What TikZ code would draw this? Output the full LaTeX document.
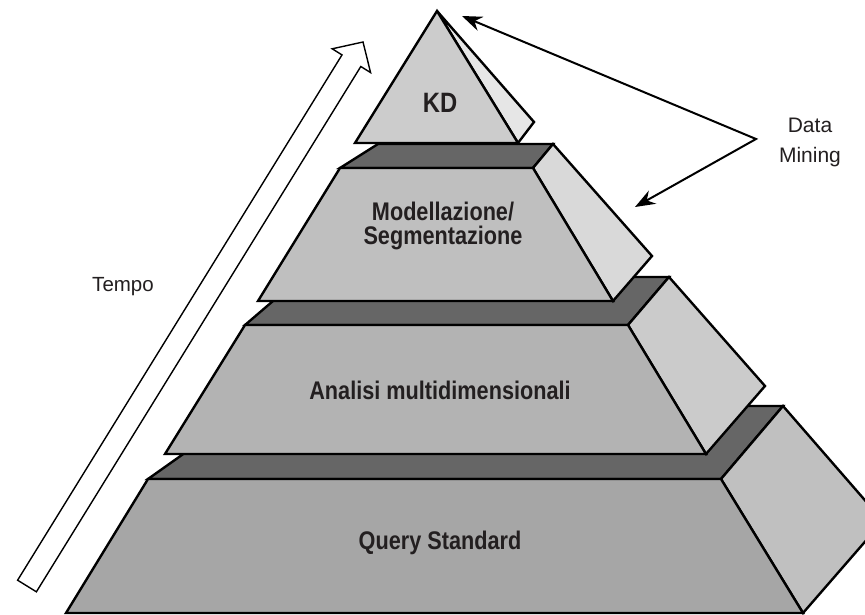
\documentclass[tikz,border=0pt]{standalone}
\usepackage{fontspec}
\setmainfont{Liberation Sans}
\newfontfamily\lblfont[FakeStretch=0.85]{Liberation Sans}
\usetikzlibrary{arrows.meta}
\definecolor{stripc}{HTML}{666666}
\definecolor{kdfront}{HTML}{CCCCCC}
\definecolor{kdside}{HTML}{E6E6E6}
\definecolor{tbfront}{HTML}{BFBFBF}
\definecolor{tbside}{HTML}{D9D9D9}
\definecolor{tcfront}{HTML}{B3B3B3}
\definecolor{tcside}{HTML}{CBCBCB}
\definecolor{tdfront}{HTML}{A6A6A6}
\definecolor{tdside}{HTML}{C0C0C0}
\definecolor{textc}{HTML}{231F20}
\begin{document}
\begin{tikzpicture}[x=1pt,y=-1pt,
  face/.style={draw=black,line width=2.4pt,line join=miter},
  lbl/.style={font=\lblfont\bfseries\fontsize{25.5pt}{24.5pt}\selectfont,text=textc,inner sep=0pt,align=center},
  plain/.style={font=\fontsize{21pt}{30pt}\selectfont,text=textc,inner sep=0pt,align=center},
  dmarrow/.style={draw=black,line width=2pt,line join=miter,{Stealth[length=20pt,width=15pt]}-{Stealth[length=20pt,width=15pt]}}
]
\useasboundingbox (0,0) rectangle (865,614);
\clip (0,0) rectangle (865,614);
\fill[white] (0,0) rectangle (865,614);

% tier 4 (bottom)
\draw[face,fill=stripc] (148,479) -- (721,479) -- (783,406) -- (251,406) -- cycle;
\draw[face,fill=tdside] (721,479) -- (783,406) -- (883,521) -- (803,613) -- cycle;
\draw[face,fill=tdfront] (148,479) -- (721,479) -- (803,613) -- (66,613) -- cycle;

% tier 3
\draw[face,fill=stripc] (245,325) -- (628,325) -- (669,277) -- (301,277) -- cycle;
\draw[face,fill=tcside] (628,325) -- (669,277) -- (765,386) -- (706,454) -- cycle;
\draw[face,fill=tcfront] (245,325) -- (628,325) -- (706,454) -- (165,454) -- cycle;

% tier 2
\draw[face,fill=stripc] (340,168) -- (533,168) -- (553,144) -- (378,144) -- cycle;
\draw[face,fill=tbside] (533,168) -- (553,144) -- (652,256) -- (613,301) -- cycle;
\draw[face,fill=tbfront] (340,168) -- (533,168) -- (613,301) -- (258,301) -- cycle;

% top (KD)
\draw[face,fill=kdside] (437,11) -- (534,122) -- (518,143) -- cycle;
\draw[face,fill=kdfront] (437,11) -- (518,143) -- (355,143) -- cycle;

% labels
\node[lbl,anchor=base,font=\lblfont\bfseries\fontsize{28pt}{30pt}\selectfont] (kd) at (440,112) {KD};
\node[lbl] (mod) at (443,226) {Modellazione/\\Segmentazione};
\node[lbl,anchor=base] (ana) at (440,399) {Analisi multidimensionali};
\node[lbl,anchor=base] (qs) at (440,549) {Query Standard};

% Tempo block arrow
\draw[fill=white,draw=black,line width=1.4pt,line join=miter]
  (17.6,580.2) -- (342.0,54.9) -- (332.2,48.8) -- (363,42) -- (370.6,72.6) -- (360.8,66.5) -- (36.4,591.8) -- cycle;
\node[plain,font=\fontsize{20.5pt}{24pt}\selectfont] (tempo) at (123,287) {Tempo};

% Data Mining
\node[plain] (dmlabel) at (810,142) {Data\\Mining};
\coordinate (dm) at (756,139);
\coordinate (tipA) at (462,16);
\coordinate (tipB) at (635,207);
\draw[dmarrow] (tipA) -- (dm) -- (tipB);
\end{tikzpicture}
\end{document}
